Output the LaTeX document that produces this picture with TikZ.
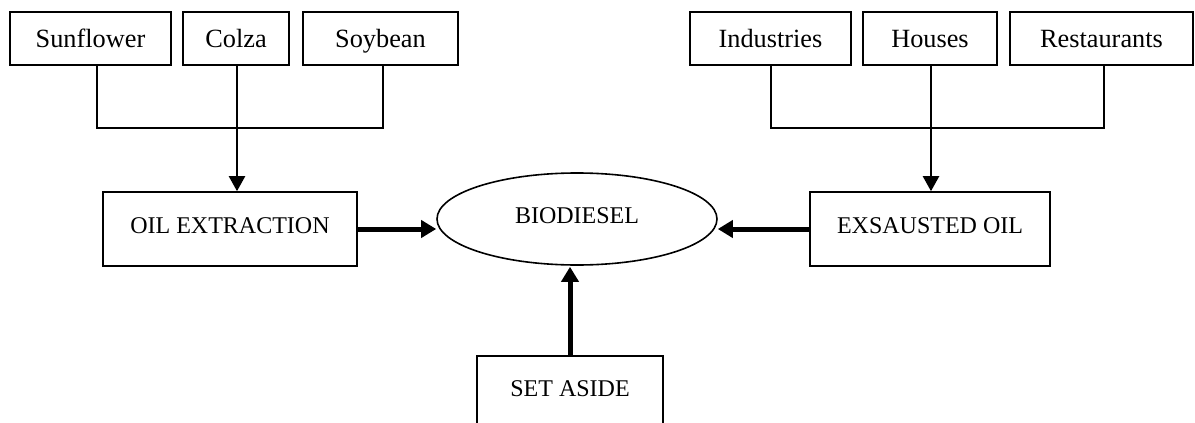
\documentclass[tikz,border=0pt]{standalone}
\usepackage{fontspec}
\setmainfont{Liberation Serif}
\usepackage{tikz}
\usetikzlibrary{arrows.meta, shapes.geometric}

\tikzset{
    srcbox/.style={draw, line width=1.6pt, minimum height=53pt, inner sep=0pt,
        font=\fontsize{26.3}{30}\selectfont, text height=17.4pt, text depth=0pt},
    stagebox/.style={draw, line width=1.6pt, minimum height=74pt, inner sep=0pt,
        font=\fontsize{24}{28}\selectfont, text height=15.9pt, text depth=7pt},
    feed/.style={line width=2.2pt, -{Triangle[length=15pt, width=16pt]}},
    flow/.style={line width=5pt, -{Triangle[length=15pt, width=17pt]}},
}

\begin{document}
\begin{tikzpicture}[x=1pt, y=-1pt]
    \useasboundingbox (0,0) rectangle (1195,423);

    % sources of vegetable oil
    \node[srcbox, minimum width=161pt] (sunflower) at (90.5,38.5) {Sunflower};
    \node[srcbox, minimum width=106pt] (colza) at (236,38.5) {Colza};
    \node[srcbox, minimum width=155pt] (soybean) at (380.5,38.5) {Soybean};

    % sources of used oil
    \node[srcbox, minimum width=161pt] (industries) at (770.5,38.5) {Industries};
    \node[srcbox, minimum width=134pt] (houses) at (930,38.5) {Houses};
    \node[srcbox, minimum width=183pt] (restaurants) at (1101.5,38.5) {Restaurants};

    % stages
    \node[stagebox, minimum width=254pt] (extraction) at (230,229) {OIL EXTRACTION};
    \node[stagebox, minimum width=240pt] (exhausted) at (930,229) {EXSAUSTED OIL};
    \node[stagebox, minimum width=186pt, text depth=9pt] (setaside) at (570,393) {SET ASIDE};
    \node[draw, ellipse, line width=1.6pt, minimum width=280pt, minimum height=92pt,
        inner sep=0pt, font=\fontsize{24}{28}\selectfont] (bio) at (577,219)
        {\raisebox{6.5pt}{BIODIESEL}};

    % left tree
    \coordinate (jl) at (237,128);
    \draw[line width=2.2pt] ([xshift=6.5pt]sunflower.south) |- (jl)
        -| ([xshift=2.5pt]soybean.south);
    \draw[line width=2.2pt] ([xshift=1pt]colza.south) -- (jl);
    \draw[feed] (jl) -- (jl |- extraction.north);

    % right tree
    \coordinate (jr) at (931,128);
    \draw[line width=2.2pt] ([xshift=0.5pt]industries.south) |- (jr)
        -| ([xshift=2.5pt]restaurants.south);
    \draw[line width=2.2pt] ([xshift=1pt]houses.south) -- (jr);
    \draw[feed] (jr) -- (jr |- exhausted.north);

    % into biodiesel
    \draw[flow] (extraction.east) -- (bio.west |- extraction.east);
    \draw[flow] (exhausted.west) -- (bio.east |- exhausted.west);
    \draw[flow] (setaside.north) -- ([yshift=-1pt]setaside.north |- bio.south);
\end{tikzpicture}
\end{document}
